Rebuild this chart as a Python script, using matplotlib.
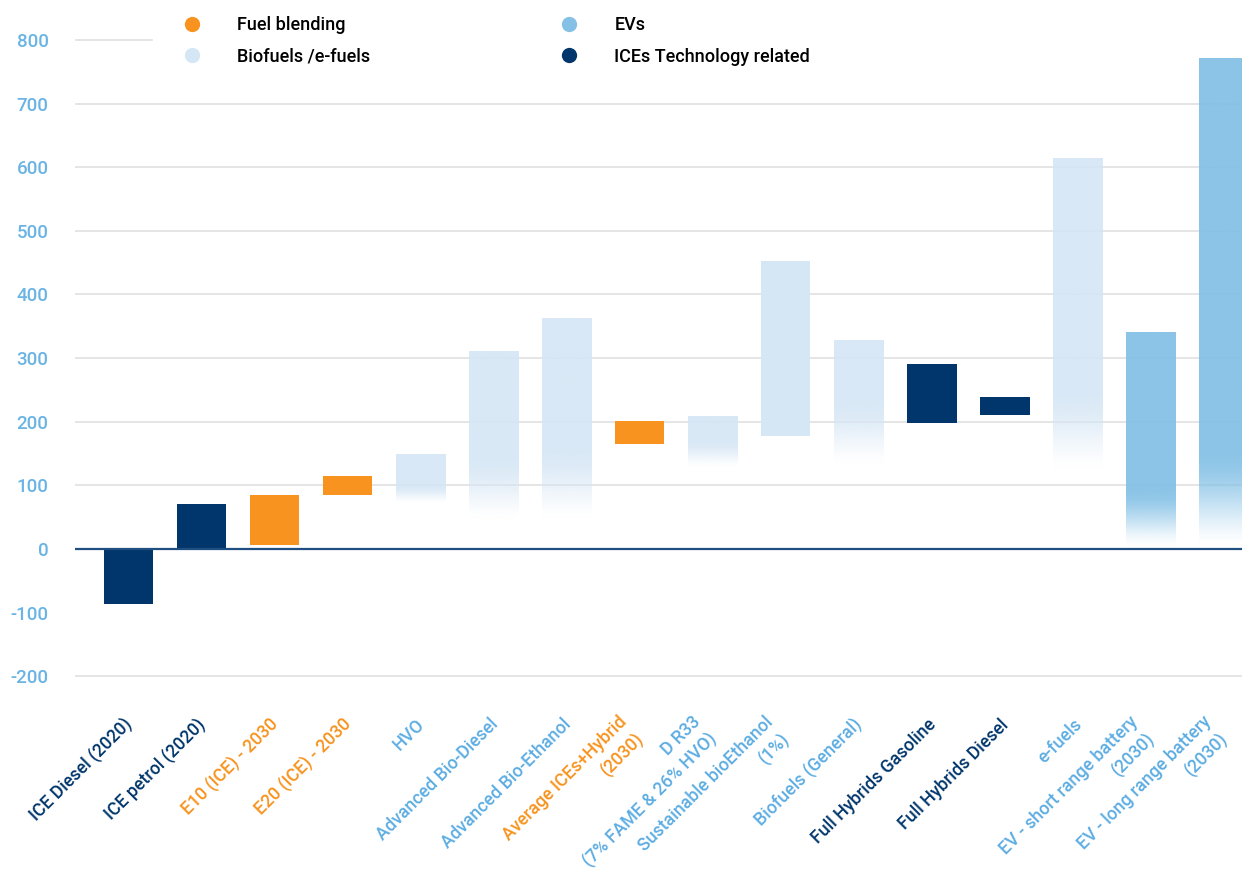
import numpy as np
import matplotlib
matplotlib.use("Agg")
import matplotlib.pyplot as plt
from matplotlib.lines import Line2D
from matplotlib.colors import to_rgb

plt.rcParams['font.family'] = ['Roboto', 'DejaVu Sans']

# data
labels = ['ICE Diesel (2020)', 'ICE petrol (2020)', 'E10 (ICE) - 2030', 'E20 (ICE) - 2030',
          'HVO', 'Advanced Bio-Diesel', 'Advanced Bio-Ethanol', 'Average ICEs+Hybrid\n(2030)',
          'D R33\n(7% FAME & 26% HVO)', 'Sustainable bioEthanol\n(1%)', 'Biofuels (General)',
          'Full Hybrids Gasoline', 'Full Hybrids Diesel', 'e-fuels',
          'EV - short range battery\n(2030)', 'EV - long range battery\n(2030)']
group = ['ice', 'ice', 'blend', 'blend', 'bio', 'bio', 'bio', 'blend',
         'bio', 'bio', 'bio', 'ice', 'ice', 'bio', 'ev', 'ev']
low = [-86, 0, 6, 85, 72, 46, 46, 165, 129, 178, 132, 198, 211, 124, 3, 3]
high = [0, 71, 85, 115, 149, 311, 362, 201, 209, 453, 327, 291, 239, 613, 340, 770]
# value where the bar starts to fade out (None = solid bar)
fade_from = [None, None, None, None, 100, 145, 160, None, 171, None, 234, None, None, 250, 97, 156]

colors = {'blend': '#f7931e', 'bio': '#d5e6f5', 'ev': '#85c1e6', 'ice': '#00366b'}
text_colors = {'blend': '#f7931e', 'bio': '#5dade2', 'ev': '#5dade2', 'ice': '#00366b'}
legend_names = [('blend', 'Fuel blending'), ('bio', 'Biofuels /e-fuels'),
                ('ev', 'EVs'), ('ice', 'ICEs Technology related')]

fig = plt.figure(figsize=(12.42, 8.71), dpi=100)
ax = fig.add_axes([75 / 1242, 181 / 871, 1 - 75 / 1242, 690 / 871])

W = 0.68
for i in range(len(labels)):
    c = colors[group[i]]
    if fade_from[i] is None:
        ax.bar(i, high[i] - low[i], bottom=low[i], width=W, color=c, zorder=3)
    else:
        n = 200
        ys = np.linspace(low[i], high[i], n)
        a = np.clip((ys - low[i]) / (fade_from[i] - low[i]), 0, 1)
        a = np.sin(a * np.pi / 2) ** 1.5
        alpha = 0.9 if group[i] == 'bio' else 0.95
        img = np.zeros((n, 2, 4))
        img[:, :, :3] = to_rgb(c)
        img[:, :, 3] = (a * alpha)[:, None]
        ax.imshow(img, extent=[i - W / 2, i + W / 2, low[i], high[i]], origin='lower',
                  aspect='auto', interpolation='bilinear', zorder=3)

# grid lines
for y in [-200, 100, 200, 300, 400, 500, 600, 700]:
    ax.axhline(y, color='#e3e3e3', lw=1.3, zorder=1)
ax.axhline(800, xmax=(152 - 75) / (1242 - 75), color='#e3e3e3', lw=1.3, zorder=1)
ax.axhline(0, color='#1f4f80', lw=1.6, zorder=4)

ax.set_xlim(-0.733, 15.25)
ax.set_ylim(-221.6, 862.8)
for s in ax.spines.values():
    s.set_visible(False)
ax.set_yticks(range(-200, 801, 100))
ax.set_yticklabels([str(v) for v in range(-200, 801, 100)], color='#6ab4e4',
                   fontsize=13.5, fontweight='medium')
ax.tick_params(axis='y', length=0, pad=19)
ax.set_xticks([])

# rotated category labels, one text per line, right aligned
d = 17 * 0.7071
for i, lab in enumerate(labels):
    lines = lab.split('\n')
    bx, by = (-5, -27) if len(lines) > 1 else (1, -23)
    for j, line in enumerate(lines):
        k = j - (len(lines) - 1) / 2
        ax.annotate(line, xy=(i, 0), xycoords=('data', 'axes fraction'),
                    xytext=(bx + k * d, by - k * d), textcoords='offset points',
                    rotation=45, ha='right', va='center', rotation_mode='anchor',
                    fontsize=12.8, fontweight='medium',
                    color=text_colors[group[i]], annotation_clip=False)

handles = [Line2D([], [], ls='', marker='o', markersize=11, color=colors[k],
                  markeredgewidth=0) for k, _ in legend_names]
leg = ax.legend(handles, [n for _, n in legend_names], ncol=2, loc='upper left',
                bbox_to_anchor=((158 - 75) / (1242 - 75), 1.0), frameon=True,
                prop={'size': 13, 'weight': 'medium'}, handletextpad=1.5,
                columnspacing=10.0, labelspacing=0.75, borderaxespad=0.5)
leg.get_frame().set_facecolor('white')
leg.get_frame().set_edgecolor('none')
leg.get_frame().set_alpha(1)
leg.set_zorder(5)

fig.savefig('out.png', dpi=100)
